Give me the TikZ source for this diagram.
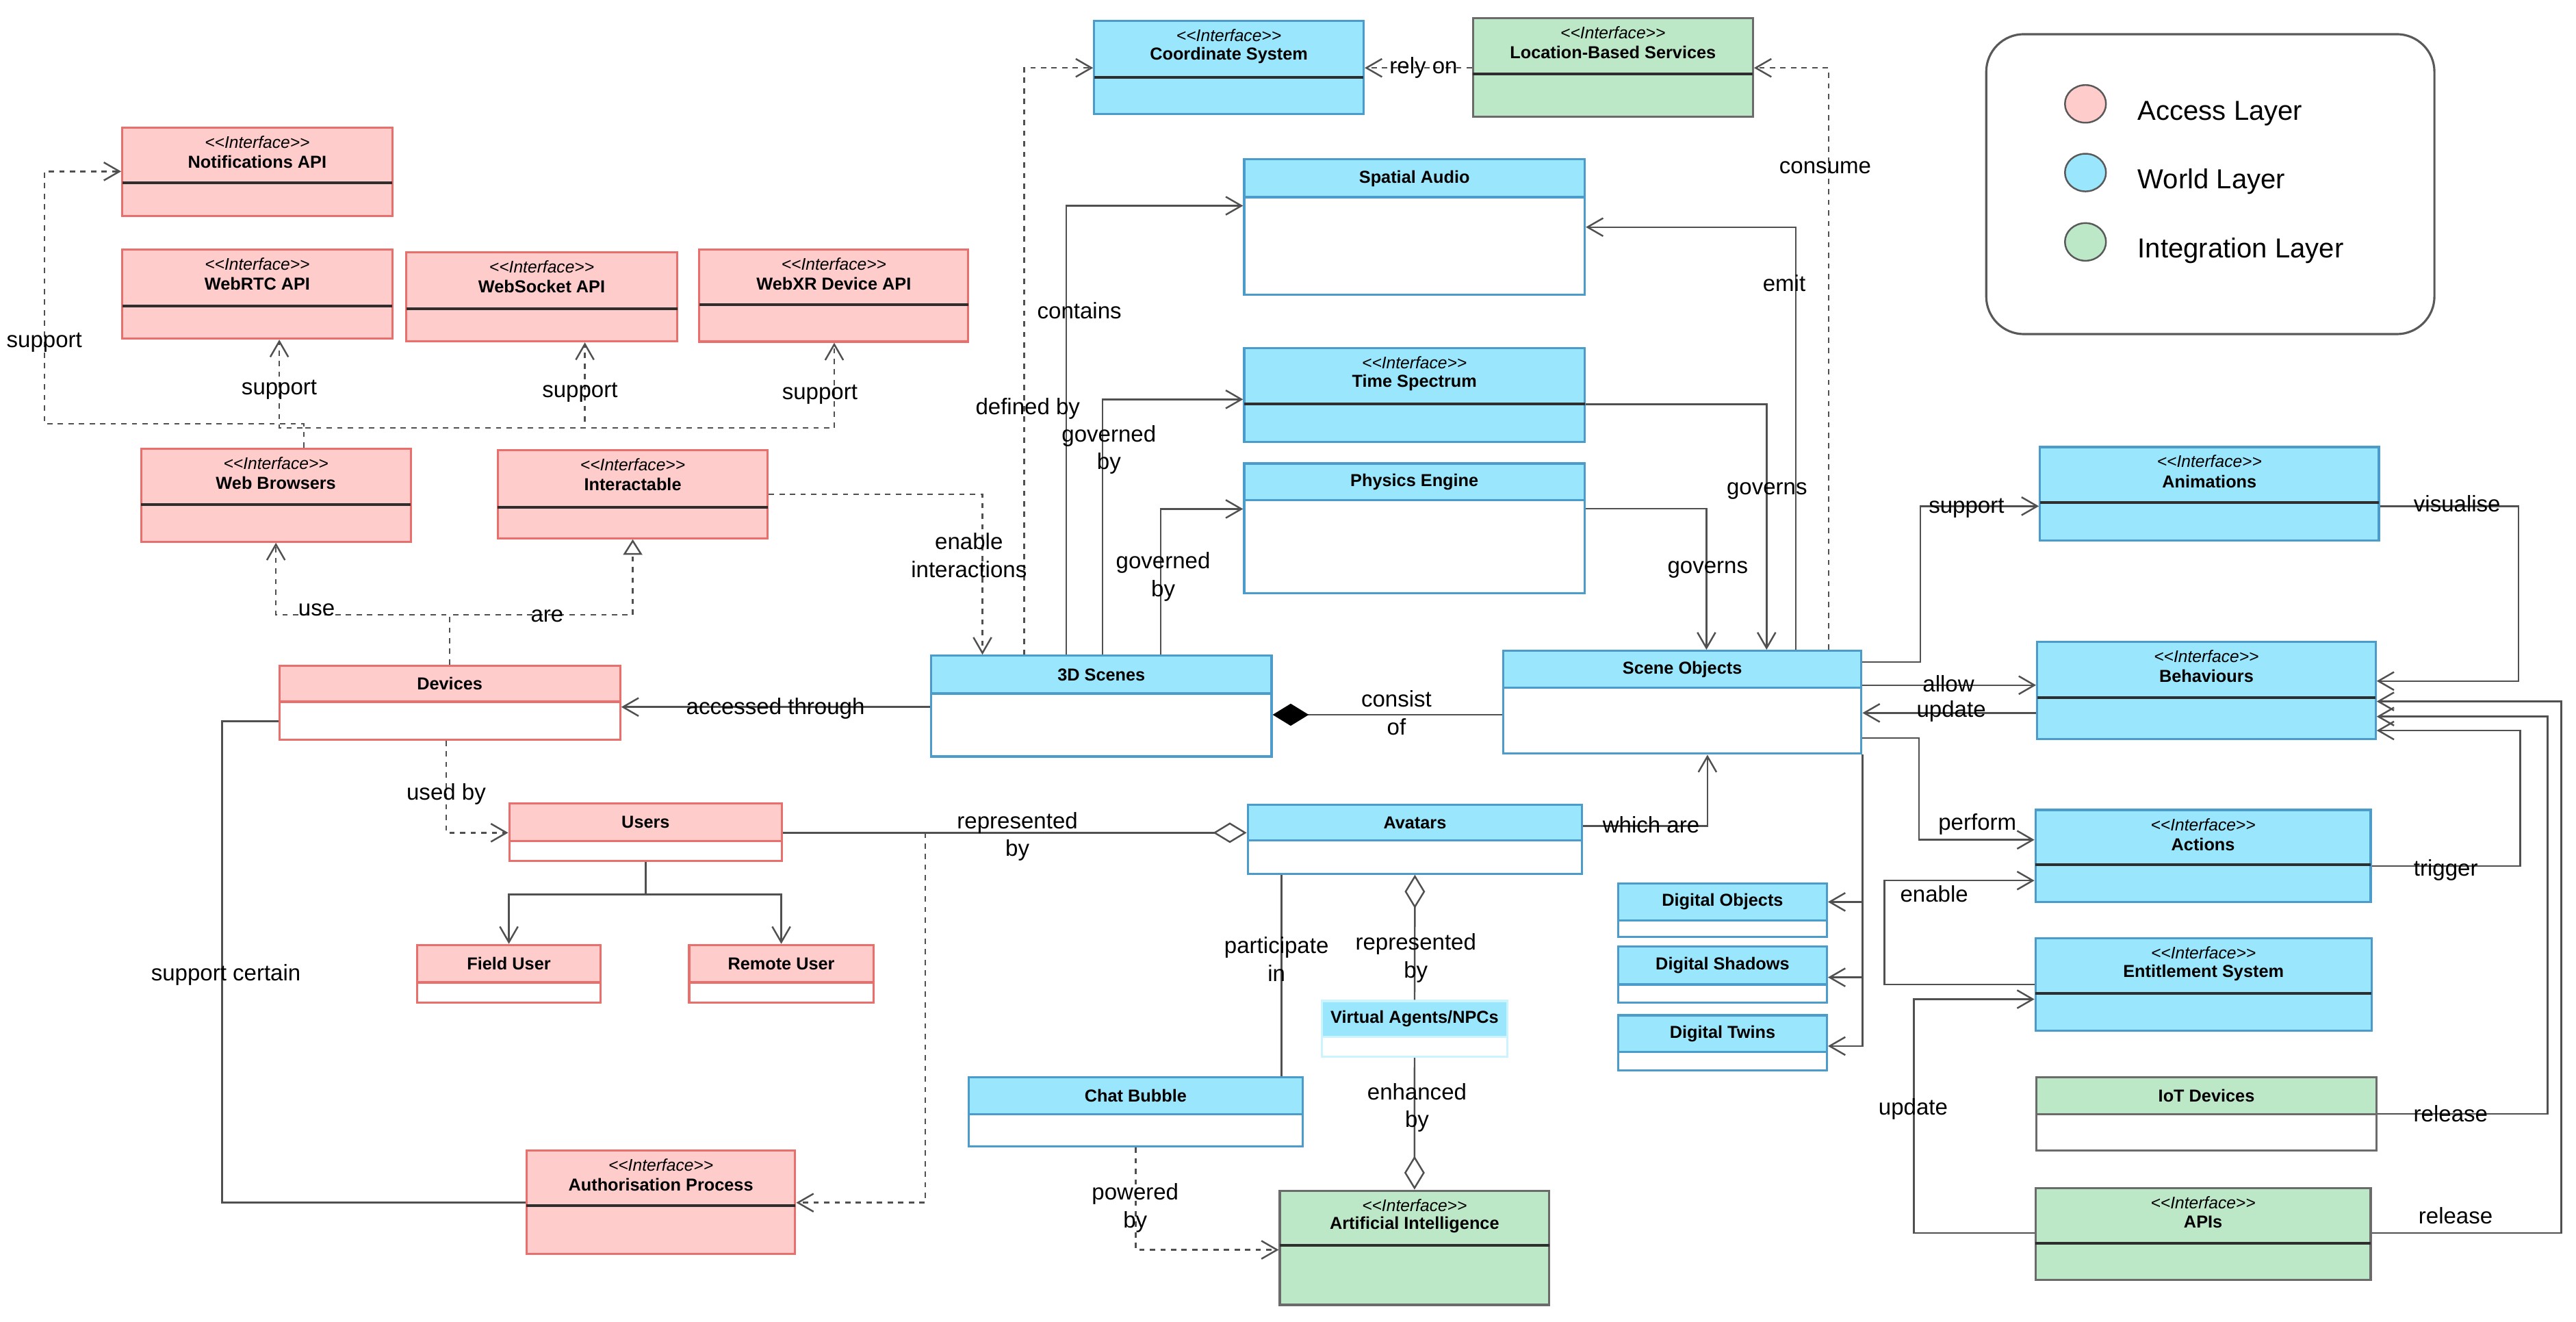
\documentclass[tikz,border=0pt]{standalone}
\usepackage{fontspec}
\setmainfont{Liberation Sans}
\usetikzlibrary{arrows.meta,calc,fit,shapes.geometric}
\definecolor{pinkfill}{HTML}{FFCCCC}
\definecolor{pinkdraw}{HTML}{E86F6B}
\definecolor{bluefill}{HTML}{9AE6FD}
\definecolor{bluedraw}{HTML}{4C9CCB}
\definecolor{greenfill}{HTML}{BDE8C8}
\definecolor{greendraw}{HTML}{6B6B6B}
\definecolor{vafill}{HTML}{9AE6FD}
\definecolor{vadraw}{HTML}{CDF3FF}
\definecolor{linec}{HTML}{505050}
\definecolor{divc}{HTML}{2E2E2E}
\tikzset{
  conn/.style={line width=0.7pt, draw=linec},
  assoc/.style={conn, -{Straight Barb[length=6.5pt,width=7.5pt]}},
  dep/.style={assoc, dash pattern=on 2.2pt off 2.2pt},
  lbl/.style={font=\fontsize{9.4}{11.6}\selectfont, inner sep=0.5pt, align=center, text=black},
  ttl/.style={font=\fontsize{7.2}{8}\selectfont\bfseries, inner sep=0pt},
  stereo/.style={font=\fontsize{7}{8}\selectfont\itshape, inner sep=0pt},
  lgtxt/.style={font=\fontsize{11.4}{13}\selectfont, inner sep=0pt},
}
% interface box: name, x1, y1, x2, y2, ydiv, layer, title
\newcommand{\IBox}[8]{%
  \node[fit={(#2,#3) (#4,#5)}, inner sep=0pt, fill=#7fill, draw=#7draw, line width=0.9pt] (#1) {};
  \draw[line width=1.1pt, color=divc] (#2,#6) -- (#4,#6);
  \node[stereo] (#1-s) at ($(#1.north)+(0,9.5)$) {<\kern0pt<Interface>\kern0pt>};
  \node[ttl] (#1-t) at ($(#1.north)+(0,21.5)$) {#8};
}
% class box: name, x1, y1, x2, y2, yhead, layer, title
\newcommand{\CBox}[8]{%
  \fill[white] (#2,#3) rectangle (#4,#5);
  \fill[#7fill] (#2,#3) rectangle (#4,#6);
  \node[fit={(#2,#3) (#4,#5)}, inner sep=0pt, draw=#7draw, line width=0.9pt] (#1) {};
  \draw[#7draw, line width=0.9pt] (#2,#6) -- (#4,#6);
  \node[ttl] (#1-t) at ($(#2,#3)!0.5!(#4,#6)$) {#8};
}
\begin{document}
\begin{tikzpicture}[x=0.024cm, y=-0.024cm]
\useasboundingbox (0,0) rectangle (1568,804.4);
% ---------- Access layer
\IBox{notif}{74.4}{77.7}{238.8}{131.3}{111.4}{pink}{Notifications API}
\IBox{webrtc}{74.4}{152}{238.8}{206}{186.2}{pink}{WebRTC API}
\IBox{websock}{247.3}{153.6}{412.2}{207.7}{188}{pink}{WebSocket API}
\IBox{webxr}{425.7}{151.8}{589.4}{207.9}{185.4}{pink}{WebXR Device API}
\IBox{wb}{85.9}{273}{250}{329.6}{306.9}{pink}{Web Browsers}
\IBox{inter}{303}{274}{467.3}{327.5}{308.5}{pink}{Interactable}
\CBox{devices}{170}{405}{377.5}{450}{427}{pink}{Devices}
\CBox{users}{310}{489}{476}{524}{511.8}{pink}{Users}
\CBox{field}{254}{575}{365.5}{610}{597.8}{pink}{Field User}
\CBox{remote}{419.5}{575}{531.6}{610}{597.8}{pink}{Remote User}
\IBox{auth}{320.5}{700}{484}{763}{733.7}{pink}{Authorisation Process}
% ---------- World / integration
\IBox{coord}{666}{12.7}{830}{69.4}{46.9}{blue}{Coordinate System}
\IBox{lbs}{896.6}{11.2}{1067}{71}{45}{green}{Location-Based Services}
\CBox{spatial}{757.3}{97}{964.6}{179.5}{120}{blue}{Spatial Audio}
\IBox{time}{757.3}{212}{964.6}{269}{245.9}{blue}{Time Spectrum}
\CBox{physics}{757.3}{282}{964.6}{361}{304.3}{blue}{Physics Engine}
\CBox{scenes}{566.8}{399}{774}{460.3}{422}{blue}{3D Scenes}
\CBox{sobj}{915}{396}{1133}{458.6}{418.5}{blue}{Scene Objects}
\CBox{avatars}{759.5}{489.6}{963}{531.6}{511.5}{blue}{Avatars}
\CBox{va}{804.5}{609}{917.6}{643}{631}{va}{Virtual Agents/NPCs}
\CBox{chat}{589.5}{655.4}{793}{697.6}{678}{blue}{Chat Bubble}
\IBox{ai}{779}{724.5}{943}{794}{757.8}{green}{Artificial Intelligence}
\CBox{dobj}{985}{537.5}{1112}{570}{560}{blue}{Digital Objects}
\CBox{dshad}{985}{576}{1112}{610}{599}{blue}{Digital Shadows}
\CBox{dtwin}{985}{617.8}{1112}{651.3}{640}{blue}{Digital Twins}
\IBox{anim}{1241.7}{272}{1448}{329}{305.8}{blue}{Animations}
\IBox{behav}{1240}{390.7}{1446}{449.7}{424.6}{blue}{Behaviours}
\IBox{actions}{1239}{492.8}{1443}{548.7}{526}{blue}{Actions}
\IBox{ent}{1239}{571}{1443.5}{627}{604.6}{blue}{Entitlement System}
\CBox{iot}{1239.4}{655.6}{1446.7}{700}{677.8}{green}{IoT Devices}
\IBox{apis}{1239}{722.8}{1443}{778.7}{756.4}{green}{APIs}
% ---------- connectors
\coordinate (wbt) at ($(wb.north)+(17,0)$);
\draw[dep] (wbt) -- ++(0,-14.5) -| (27,104.3) -- (notif.west |- 0,104.3);
\draw[dep] (wbt) |- (170,260.4) -- (webrtc.south -| 170,0);
\draw[dep] (wbt) |- (356,260.4) -- (websock.south -| 356,0);
\draw[dep] (wbt) |- (507.8,260.4) -- (webxr.south -| 507.8,0);
\draw[dep, -{Triangle[open,length=6.4pt,width=7.9pt]}] (devices.north) -- ++(0,-30.2) -| (inter.south);
\draw[dep] (devices.north) -- ++(0,-30.2) -| (wb.south);
\draw[dep] (inter.east) -| (scenes.north -| 598,0);
\draw[dep] (lbs.west |- 0,41.3) -- (coord.east |- 0,41.3);
\draw[dep] (sobj.north -| 1113,0) |- (lbs.east |- 0,41.3);
\draw[dep] (scenes.north -| 623.4,0) |- (coord.west |- 0,41.3);
\draw[assoc] (scenes.north -| 649,0) |- (spatial.west |- 0,125.2);
\draw[assoc] (scenes.north -| 671,0) |- (time.west |- 0,243);
\draw[assoc] (scenes.north -| 706.6,0) |- (physics.west |- 0,309.7);
\draw[assoc] (scenes.west |- 0,430.2) -- (devices.east |- 0,430.2);
\draw[conn, {Diamond[length=15pt,width=9.2pt,color=black,fill=black]}-] (scenes.east |- 0,434.9) -- (sobj.west |- 0,434.9);
\draw[assoc] (sobj.north -| 1093,0) |- (spatial.east |- 0,138.2);
\draw[assoc] (time.east |- 0,245.9) -| (sobj.north -| 1075.3,0);
\draw[assoc] (physics.east |- 0,309.5) -| (sobj.north -| 1038.7,0);
\draw[assoc] (sobj.east |- 0,402.8) -| (1169,308) -- (anim.west |- 0,308);
\draw[assoc] (sobj.east |- 0,416.9) -- (behav.west |- 0,416.9);
\draw[assoc] (behav.west |- 0,433.8) -- (sobj.east |- 0,433.8);
\draw[assoc] (sobj.east |- 0,449) -| (1168,511) -- (actions.west |- 0,511);
\draw[assoc] (sobj.south east) |- (dobj.east |- 0,548.8);
\draw[assoc] (sobj.south east) |- (dshad.east |- 0,594.7);
\draw[assoc] (sobj.south east) |- (dtwin.east |- 0,636.5);
\draw[assoc] (avatars.east |- 0,502.5) -| (sobj.south -| 1039.3,0);
\draw[conn, {Diamond[open,length=14pt,width=8.5pt]}-] (avatars.west |- 0,506.7) -- (users.east |- 0,506.7);
\coordinate (ubr) at (563.2,506.7);
\draw[dep] (ubr) |- (auth.east |- 0,731.8);
\draw[conn] (devices.west |- 0,438.8) -| (135.2,731.8) -- (auth.west |- 0,731.8);
\draw[dep] (devices.south -| 271.6,0) |- (users.west |- 0,506.7);
\draw[assoc] (users.south) |- ($(field.north)+(0,-30)$) -- (field.north);
\draw[assoc] (users.south) |- ($(remote.north)+(0,-30)$) -- (remote.north);
\draw[conn] (avatars.south -| 780,0) -- (chat.north -| 780,0);
\draw[conn, {Diamond[open,length=14pt,width=8.5pt]}-] (avatars.south) -- (va.north);
\draw[conn, -{Diamond[open,length=14pt,width=8.5pt]}] (va.south) -- (ai.north);
\draw[dep] (chat.south) |- (ai.west |- 0,760.5);
\draw[assoc] (anim.east |- 0,308) -| (1533,414.4) -- (behav.east |- 0,414.4);
\draw[assoc] (apis.east |- 0,750.3) -| (1559,426.8) -- (behav.east |- 0,426.8);
\draw[assoc] (iot.east |- 0,677.8) -| (1550.6,436) -- (behav.east |- 0,436);
\draw[assoc] (actions.east |- 0,527) -| (1534,444.5) -- (behav.east |- 0,444.5);
\draw[assoc] (ent.west |- 0,599) -| (1147,535.8) -- (actions.west |- 0,535.8);
\draw[assoc] (apis.west |- 0,750.3) -| (1165,608) -- (ent.west |- 0,608);
% ---------- labels
\node[lbl] (l1) at (27,208.5) {support};
\node[lbl] (l2) at (170,237) {support};
\node[lbl] (l3) at (353,239) {support};
\node[lbl] (l4) at (499,240) {support};
\node[lbl] (l5) at (192.7,371) {use};
\node[lbl] (l6) at (333,375) {are};
\node[lbl] (l7) at (472,431) {accessed through};
\node[lbl] (l8) at (271.6,483) {used by};
\node[lbl] (l9) at (137.5,593) {support certain};
\node[lbl] (l10) at (619.3,509) {represented\\by};
\node[lbl] (l11) at (589.8,338) {enable\\interactions};
\node[lbl] (l12) at (625.6,248.8) {defined by};
\node[lbl] (l13) at (657,189) {contains};
\node[lbl] (l14) at (675,273.7) {governed\\by};
\node[lbl] (l15) at (708,351) {governed\\by};
\node[lbl] (l16) at (850,433.8) {consist\\of};
\node[lbl] (l17) at (866.5,41.3) {rely on};
\node[lbl] (l18) at (1111,102) {consume};
\node[lbl] (l19) at (1086,172.5) {emit};
\node[lbl] (l20) at (1075.5,298.5) {governs};
\node[lbl] (l21) at (1039.5,346.4) {governs};
\node[lbl] (l22) at (1197,309) {support};
\node[lbl] (l23) at (1186,416) {allow};
\node[lbl] (l24) at (1187.7,433) {update};
\node[lbl] (l25) at (1203.6,501.7) {perform};
\node[lbl] (l26) at (1177.3,544) {enable};
\node[lbl] (l27) at (1164.5,675) {update};
\node[lbl] (l28) at (1495.6,306.5) {visualise};
\node[lbl] (l29) at (1488.7,529.3) {trigger};
\node[lbl] (l30) at (1491.7,677.8) {release};
\node[lbl] (l31) at (1494.7,739.7) {release};
\node[lbl] (l32) at (1005,501.8) {which are};
\node[lbl] (l33) at (777,583.6) {participate\\in};
\node[lbl] (l34) at (861.8,583) {represented\\by};
\node[lbl] (l35) at (862.5,674) {enhanced\\by};
\node[lbl] (l36) at (691,735) {powered\\by};
% ---------- legend
\node[fit={(1209,20.8) (1481.8,203.3)}, inner sep=0pt, draw=black!65, line width=0.9pt, rounded corners=0.55cm] (legend) {};
\node[ellipse, minimum width=0.6cm, minimum height=0.55cm, inner sep=0pt, fill=pinkfill, draw=black!65, line width=0.7pt] (lg1) at (1269.4,63.2) {};
\node[ellipse, minimum width=0.6cm, minimum height=0.55cm, inner sep=0pt, fill=bluefill, draw=black!65, line width=0.7pt] (lg2) at (1269.4,105) {};
\node[ellipse, minimum width=0.6cm, minimum height=0.55cm, inner sep=0pt, fill=greenfill, draw=black!65, line width=0.7pt] (lg3) at (1269.4,147.2) {};
\node[lgtxt, anchor=base west] (lt1) at (1301,72.9) {Access Layer};
\node[lgtxt, anchor=base west] (lt2) at (1301,114.6) {World Layer};
\node[lgtxt, anchor=base west] (lt3) at (1301,157) {Integration Layer};
\end{tikzpicture}
\end{document}
